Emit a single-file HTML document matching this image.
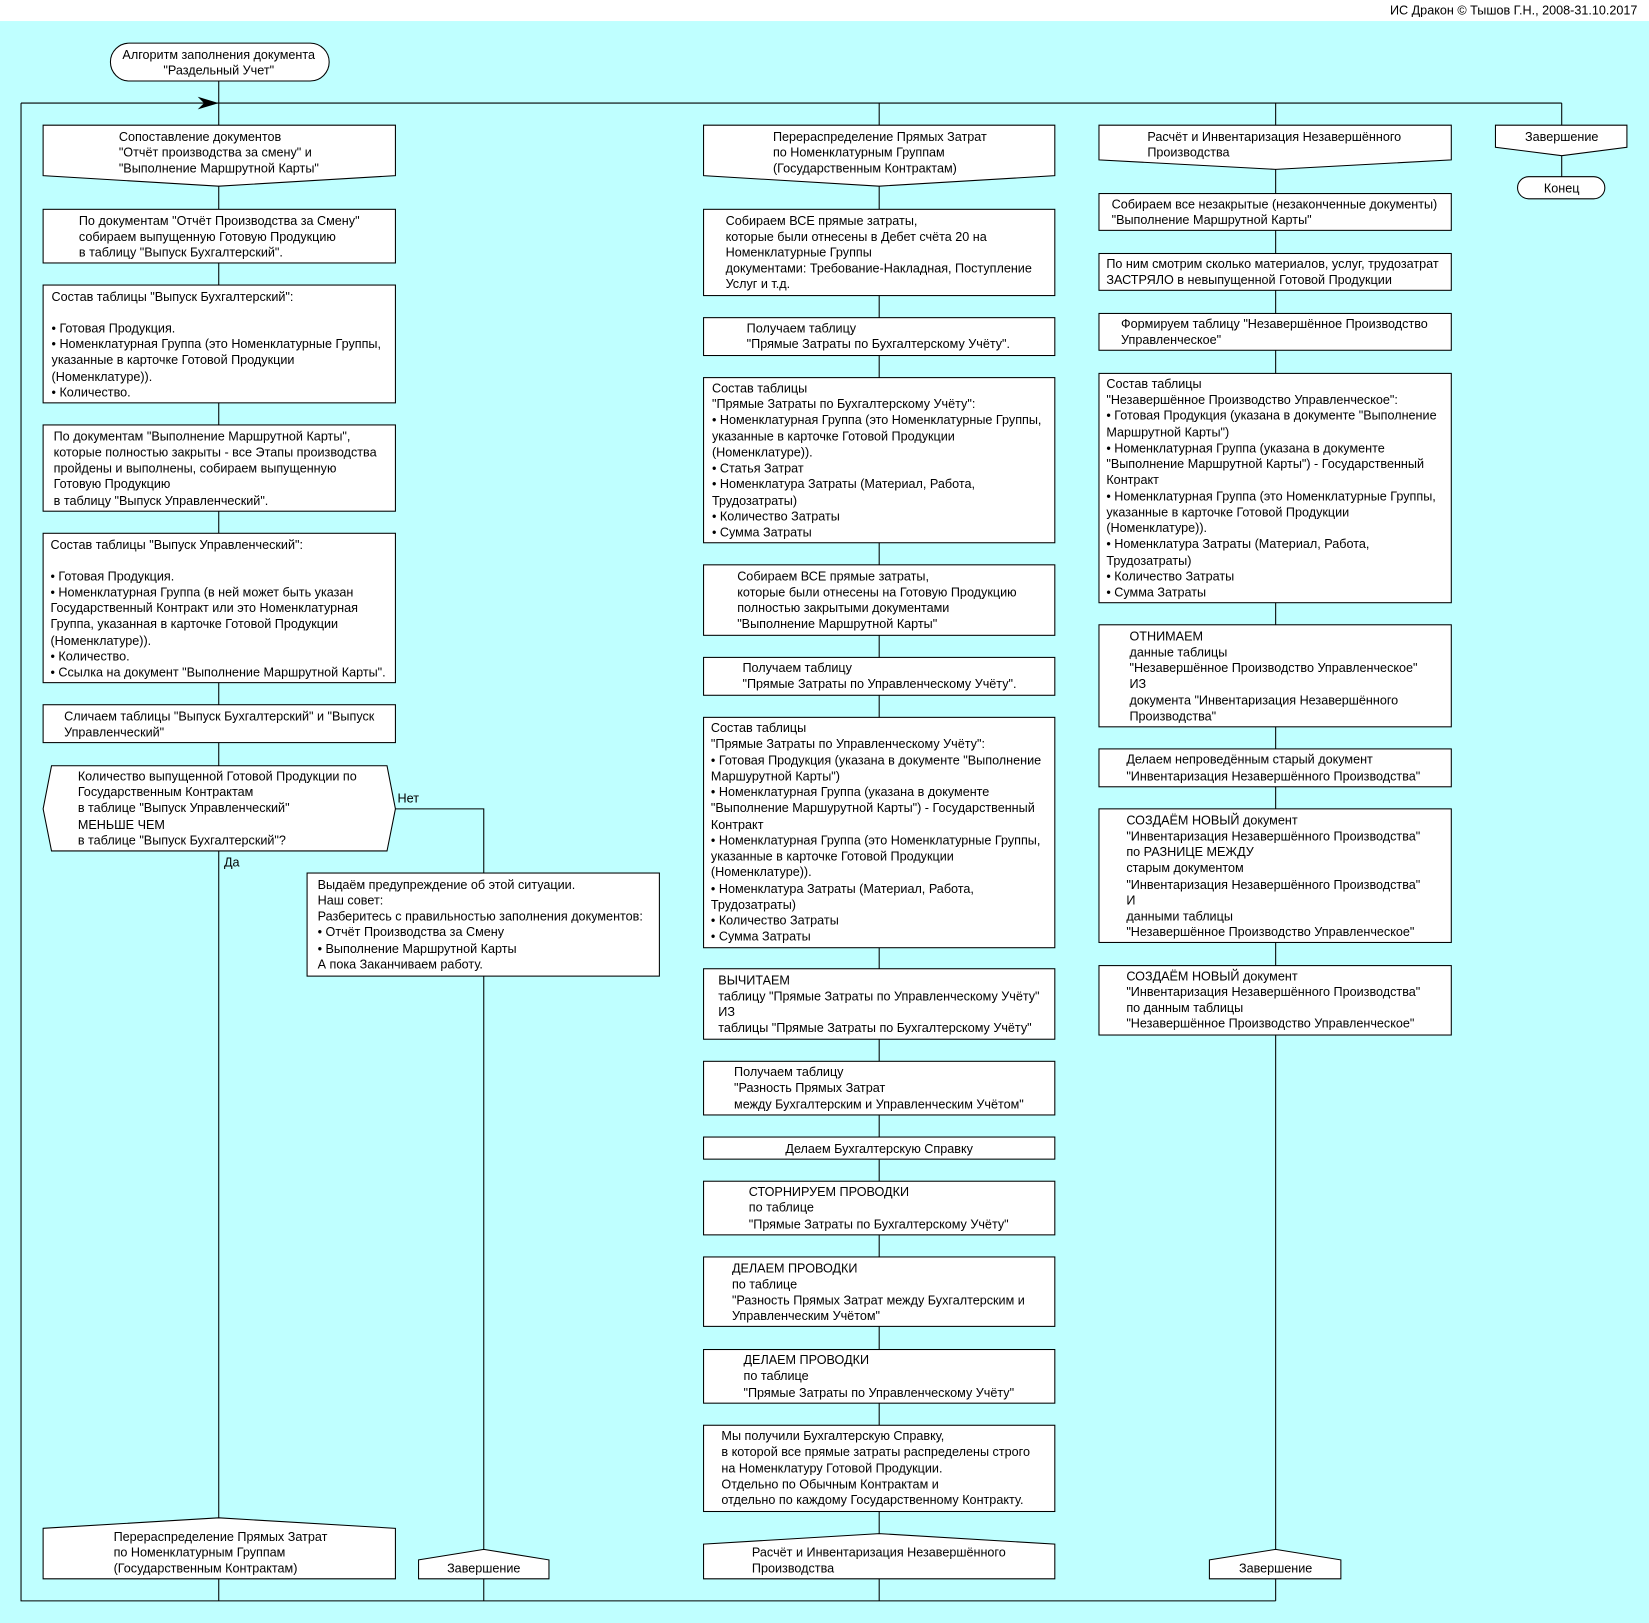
<!DOCTYPE html>
<html><head><meta charset="utf-8"><style>
html,body{margin:0;padding:0;background:#fff}
svg{display:block}
text{font-family:"Liberation Sans","DejaVu Sans",sans-serif;font-size:12px;fill:#000}
.s{fill:#fff;stroke:#000;stroke-width:1}
.l{stroke:#000;stroke-width:1;fill:none}
</style></head><body>
<svg width="1649" height="1623" viewBox="0 0 1568 1543" preserveAspectRatio="none" xmlns="http://www.w3.org/2000/svg">
<rect x="0" y="0" width="1568" height="1543" fill="#fff"/>
<rect x="0" y="20" width="1568" height="1523" fill="#bfffff"/>
<text x="1557" y="14" text-anchor="end">ИС Дракон © Тышов Г.Н., 2008-31.10.2017</text>

<path class="l" d="M208 77V1522 M20 98H1485 M20 98V1522H1213 M836 98V1522 M1213 98V1522 M1485 98V178"/>
<path class="l" d="M376 769H460V1522"/>
<polygon points="208,98 188,92 194,98 188,104" fill="#000"/>

<rect class="s" x="105" y="41" width="208" height="36" rx="18"/>
<text text-anchor="middle"><tspan x="208" y="56">Алгоритм заполнения документа</tspan><tspan x="208" y="71">"Раздельный Учет"</tspan></text>

<polygon class="s" points="41,119 376,119 376,167 208,177 41,167"/>
<text><tspan x="113" y="134">Сопоставление документов</tspan><tspan x="113" y="149">"Отчёт производства за смену" и</tspan><tspan x="113" y="164">"Выполнение Маршрутной Карты"</tspan></text>

<rect class="s" x="41" y="199" width="335" height="51"/>
<text><tspan x="75" y="214">По документам "Отчёт Производства за Смену"</tspan><tspan x="75" y="229">собираем выпущенную Готовую Продукцию</tspan><tspan x="75" y="244">в таблицу "Выпуск Бухгалтерский".</tspan></text>

<rect class="s" x="41" y="271" width="335" height="112"/>
<text><tspan x="49" y="286">Состав таблицы "Выпуск Бухгалтерский":</tspan><tspan x="49" y="316">• Готовая Продукция.</tspan><tspan x="49" y="331">• Номенклатурная Группа (это Номенклатурные Группы,</tspan><tspan x="49" y="346">указанные в карточке Готовой Продукции</tspan><tspan x="49" y="362">(Номенклатуре)).</tspan><tspan x="49" y="377">• Количество.</tspan></text>

<rect class="s" x="41" y="404" width="335" height="82"/>
<text><tspan x="51" y="419">По документам "Выполнение Маршрутной Карты",</tspan><tspan x="51" y="434">которые полностью закрыты - все Этапы производства</tspan><tspan x="51" y="449">пройдены и выполнены, собираем выпущенную</tspan><tspan x="51" y="464">Готовую Продукцию</tspan><tspan x="51" y="480">в таблицу "Выпуск Управленческий".</tspan></text>

<rect class="s" x="41" y="507" width="335" height="142"/>
<text><tspan x="48" y="522">Состав таблицы "Выпуск Управленческий":</tspan><tspan x="48" y="552">• Готовая Продукция.</tspan><tspan x="48" y="567">• Номенклатурная Группа (в ней может быть указан</tspan><tspan x="48" y="582">Государственный Контракт или это Номенклатурная</tspan><tspan x="48" y="597">Группа, указанная в карточке Готовой Продукции</tspan><tspan x="48" y="613">(Номенклатуре)).</tspan><tspan x="48" y="628">• Количество.</tspan><tspan x="48" y="643">• Ссылка на документ "Выполнение Маршрутной Карты".</tspan></text>

<rect class="s" x="41" y="670" width="335" height="36"/>
<text><tspan x="61" y="685">Сличаем таблицы "Выпуск Бухгалтерский" и "Выпуск</tspan><tspan x="61" y="700">Управленческий"</tspan></text>

<polygon class="s" points="49,728 368,728 376,769 368,809 49,809 41,769"/>
<text><tspan x="74" y="742">Количество выпущенной Готовой Продукции по</tspan><tspan x="74" y="757">Государственным Контрактам</tspan><tspan x="74" y="772">в таблице "Выпуск Управленческий"</tspan><tspan x="74" y="788">МЕНЬШЕ ЧЕМ</tspan><tspan x="74" y="803">в таблице "Выпуск Бухгалтерский"?</tspan></text>
<text x="378" y="763">Нет</text>
<text x="213" y="824">Да</text>

<rect class="s" x="292" y="830" width="335" height="98"/>
<text><tspan x="302" y="845">Выдаём предупреждение об этой ситуации.</tspan><tspan x="302" y="860">Наш совет:</tspan><tspan x="302" y="875">Разберитесь с правильностью заполнения документов:</tspan><tspan x="302" y="890">• Отчёт Производства за Смену</tspan><tspan x="302" y="906">• Выполнение Маршрутной Карты</tspan><tspan x="302" y="921">А пока Заканчиваем работу.</tspan></text>

<polygon class="s" points="41,1453 208,1443 376,1453 376,1501 41,1501"/>
<text><tspan x="108" y="1465">Перераспределение Прямых Затрат</tspan><tspan x="108" y="1480">по Номенклатурным Группам</tspan><tspan x="108" y="1495">(Государственным Контрактам)</tspan></text>

<polygon class="s" points="398,1483 460,1473 522,1483 522,1501 398,1501"/>
<text x="460" y="1495" text-anchor="middle">Завершение</text>

<polygon class="s" points="669,119 1003,119 1003,167 836,177 669,167"/>
<text><tspan x="735" y="134">Перераспределение Прямых Затрат</tspan><tspan x="735" y="149">по Номенклатурным Группам</tspan><tspan x="735" y="164">(Государственным Контрактам)</tspan></text>

<rect class="s" x="669" y="199" width="334" height="82"/>
<text><tspan x="690" y="214">Собираем ВСЕ прямые затраты,</tspan><tspan x="690" y="229">которые были отнесены в Дебет счёта 20 на</tspan><tspan x="690" y="244">Номенклатурные Группы</tspan><tspan x="690" y="259">документами: Требование-Накладная, Поступление</tspan><tspan x="690" y="274">Услуг и т.д.</tspan></text>

<rect class="s" x="669" y="302" width="334" height="36"/>
<text><tspan x="710" y="316">Получаем таблицу</tspan><tspan x="710" y="331">"Прямые Затраты по Бухгалтерскому Учёту".</tspan></text>

<rect class="s" x="669" y="359" width="334" height="157"/>
<text><tspan x="677" y="373">Состав таблицы</tspan><tspan x="677" y="388">"Прямые Затраты по Бухгалтерскому Учёту":</tspan><tspan x="677" y="403">• Номенклатурная Группа (это Номенклатурные Группы,</tspan><tspan x="677" y="419">указанные в карточке Готовой Продукции</tspan><tspan x="677" y="434">(Номенклатуре)).</tspan><tspan x="677" y="449">• Статья Затрат</tspan><tspan x="677" y="464">• Номенклатура Затраты (Материал, Работа,</tspan><tspan x="677" y="480">Трудозатраты)</tspan><tspan x="677" y="495">• Количество Затраты</tspan><tspan x="677" y="510">• Сумма Затраты</tspan></text>

<rect class="s" x="669" y="537" width="334" height="67"/>
<text><tspan x="701" y="552">Собираем ВСЕ прямые затраты,</tspan><tspan x="701" y="567">которые были отнесены на Готовую Продукцию</tspan><tspan x="701" y="582">полностью закрытыми документами</tspan><tspan x="701" y="597">"Выполнение Маршрутной Карты"</tspan></text>

<rect class="s" x="669" y="625" width="334" height="36"/>
<text><tspan x="706" y="639">Получаем таблицу</tspan><tspan x="706" y="654">"Прямые Затраты по Управленческому Учёту".</tspan></text>

<rect class="s" x="669" y="682" width="334" height="219"/>
<text><tspan x="676" y="696">Состав таблицы</tspan><tspan x="676" y="711">"Прямые Затраты по Управленческому Учёту":</tspan><tspan x="676" y="727">• Готовая Продукция (указана в документе "Выполнение</tspan><tspan x="676" y="742">Маршурутной Карты")</tspan><tspan x="676" y="757">• Номенклатурная Группа (указана в документе</tspan><tspan x="676" y="772">"Выполнение Маршурутной Карты") - Государственный</tspan><tspan x="676" y="788">Контракт</tspan><tspan x="676" y="803">• Номенклатурная Группа (это Номенклатурные Группы,</tspan><tspan x="676" y="818">указанные в карточке Готовой Продукции</tspan><tspan x="676" y="833">(Номенклатуре)).</tspan><tspan x="676" y="849">• Номенклатура Затраты (Материал, Работа,</tspan><tspan x="676" y="864">Трудозатраты)</tspan><tspan x="676" y="879">• Количество Затраты</tspan><tspan x="676" y="894">• Сумма Затраты</tspan></text>

<rect class="s" x="669" y="921" width="334" height="67"/>
<text><tspan x="683" y="936">ВЫЧИТАЕМ</tspan><tspan x="683" y="951">таблицу "Прямые Затраты по Управленческому Учёту"</tspan><tspan x="683" y="966">ИЗ</tspan><tspan x="683" y="981">таблицы "Прямые Затраты по Бухгалтерскому Учёту"</tspan></text>

<rect class="s" x="669" y="1009" width="334" height="51"/>
<text><tspan x="698" y="1023">Получаем таблицу</tspan><tspan x="698" y="1038">"Разность Прямых Затрат</tspan><tspan x="698" y="1054">между Бухгалтерским и Управленческим Учётом"</tspan></text>

<rect class="s" x="669" y="1081" width="334" height="21"/>
<text x="836" y="1096" text-anchor="middle">Делаем Бухгалтерскую Справку</text>

<rect class="s" x="669" y="1123" width="334" height="51"/>
<text><tspan x="712" y="1137">СТОРНИРУЕМ ПРОВОДКИ</tspan><tspan x="712" y="1152">по таблице</tspan><tspan x="712" y="1168">"Прямые Затраты по Бухгалтерскому Учёту"</tspan></text>

<rect class="s" x="669" y="1195" width="334" height="66"/>
<text><tspan x="696" y="1210">ДЕЛАЕМ ПРОВОДКИ</tspan><tspan x="696" y="1225">по таблице</tspan><tspan x="696" y="1240">"Разность Прямых Затрат между Бухгалтерским и</tspan><tspan x="696" y="1255">Управленческим Учётом"</tspan></text>

<rect class="s" x="669" y="1283" width="334" height="51"/>
<text><tspan x="707" y="1297">ДЕЛАЕМ ПРОВОДКИ</tspan><tspan x="707" y="1312">по таблице</tspan><tspan x="707" y="1328">"Прямые Затраты по Управленческому Учёту"</tspan></text>

<rect class="s" x="669" y="1355" width="334" height="82"/>
<text><tspan x="686" y="1369">Мы получили Бухгалтерскую Справку,</tspan><tspan x="686" y="1384">в которой все прямые затраты распределены строго</tspan><tspan x="686" y="1400">на Номенклатуру Готовой Продукции.</tspan><tspan x="686" y="1415">Отдельно по Обычным Контрактам и</tspan><tspan x="686" y="1430">отдельно по каждому Государственному Контракту.</tspan></text>

<polygon class="s" points="669,1468 836,1458 1003,1468 1003,1501 669,1501"/>
<text><tspan x="715" y="1480">Расчёт и Инвентаризация Незавершённого</tspan><tspan x="715" y="1495">Производства</tspan></text>

<polygon class="s" points="1045,119 1380,119 1380,152 1213,161 1045,152"/>
<text><tspan x="1091" y="134">Расчёт и Инвентаризация Незавершённого</tspan><tspan x="1091" y="149">Производства</tspan></text>

<rect class="s" x="1045" y="184" width="335" height="35"/>
<text><tspan x="1057" y="198">Собираем все незакрытые (незаконченные документы)</tspan><tspan x="1057" y="213">"Выполнение Маршрутной Карты"</tspan></text>

<rect class="s" x="1045" y="241" width="335" height="35"/>
<text><tspan x="1052" y="255">По ним смотрим сколько материалов, услуг, трудозатрат</tspan><tspan x="1052" y="270">ЗАСТРЯЛО в невыпущенной Готовой Продукции</tspan></text>

<rect class="s" x="1045" y="298" width="335" height="35"/>
<text><tspan x="1066" y="312">Формируем таблицу "Незавершённое Производство</tspan><tspan x="1066" y="327">Управленческое"</tspan></text>

<rect class="s" x="1045" y="355" width="335" height="218"/>
<text><tspan x="1052" y="369">Состав таблицы</tspan><tspan x="1052" y="384">"Незавершённое Производство Управленческое":</tspan><tspan x="1052" y="399">• Готовая Продукция (указана в документе "Выполнение</tspan><tspan x="1052" y="415">Маршрутной Карты")</tspan><tspan x="1052" y="430">• Номенклатурная Группа (указана в документе</tspan><tspan x="1052" y="445">"Выполнение Маршрутной Карты") - Государственный</tspan><tspan x="1052" y="460">Контракт</tspan><tspan x="1052" y="476">• Номенклатурная Группа (это Номенклатурные Группы,</tspan><tspan x="1052" y="491">указанные в карточке Готовой Продукции</tspan><tspan x="1052" y="506">(Номенклатуре)).</tspan><tspan x="1052" y="521">• Номенклатура Затраты (Материал, Работа,</tspan><tspan x="1052" y="537">Трудозатраты)</tspan><tspan x="1052" y="552">• Количество Затраты</tspan><tspan x="1052" y="567">• Сумма Затраты</tspan></text>

<rect class="s" x="1045" y="594" width="335" height="97"/>
<text><tspan x="1074" y="609">ОТНИМАЕМ</tspan><tspan x="1074" y="624">данные таблицы</tspan><tspan x="1074" y="639">"Незавершённое Производство Управленческое"</tspan><tspan x="1074" y="654">ИЗ</tspan><tspan x="1074" y="670">документа "Инвентаризация Незавершённого</tspan><tspan x="1074" y="685">Производства"</tspan></text>

<rect class="s" x="1045" y="712" width="335" height="36"/>
<text><tspan x="1071" y="726">Делаем непроведённым старый документ</tspan><tspan x="1071" y="742">"Инвентаризация Незавершённого Производства"</tspan></text>

<rect class="s" x="1045" y="769" width="335" height="127"/>
<text><tspan x="1071" y="784">СОЗДАЁМ НОВЫЙ документ</tspan><tspan x="1071" y="799">"Инвентаризация Незавершённого Производства"</tspan><tspan x="1071" y="814">по РАЗНИЦЕ МЕЖДУ</tspan><tspan x="1071" y="829">старым документом</tspan><tspan x="1071" y="845">"Инвентаризация Незавершённого Производства"</tspan><tspan x="1071" y="860">И</tspan><tspan x="1071" y="875">данными таблицы</tspan><tspan x="1071" y="890">"Незавершённое Производство Управленческое"</tspan></text>

<rect class="s" x="1045" y="918" width="335" height="66"/>
<text><tspan x="1071" y="932">СОЗДАЁМ НОВЫЙ документ</tspan><tspan x="1071" y="947">"Инвентаризация Незавершённого Производства"</tspan><tspan x="1071" y="962">по данным таблицы</tspan><tspan x="1071" y="977">"Незавершённое Производство Управленческое"</tspan></text>

<polygon class="s" points="1150,1483 1213,1473 1275,1483 1275,1501 1150,1501"/>
<text x="1213" y="1495" text-anchor="middle">Завершение</text>

<polygon class="s" points="1422,119 1547,119 1547,140 1485,148 1422,140"/>
<text x="1485" y="134" text-anchor="middle">Завершение</text>
<rect class="s" x="1443" y="168" width="83" height="21" rx="10.5"/>
<text x="1485" y="183" text-anchor="middle">Конец</text>
</svg>
</body></html>
